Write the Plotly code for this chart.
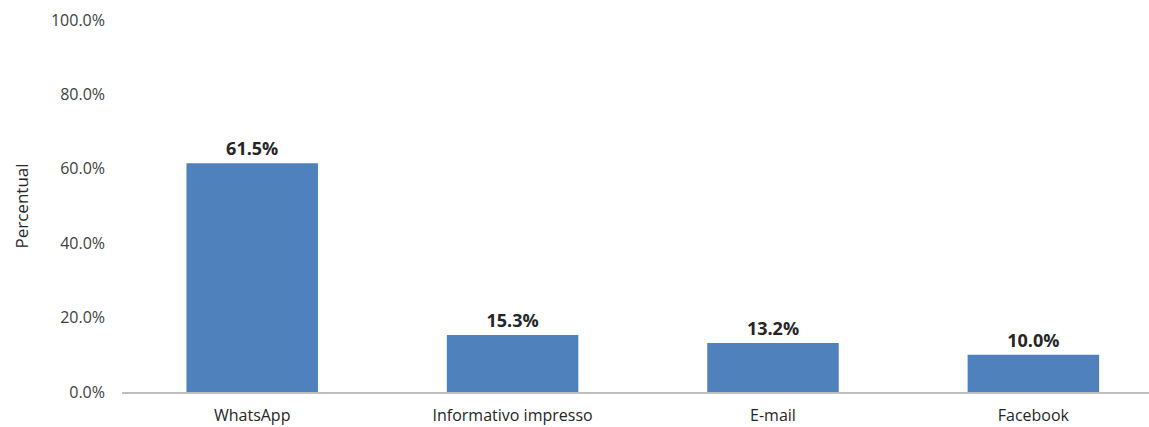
import plotly.graph_objects as go

categories = ["WhatsApp", "Informativo impresso", "E-mail", "Facebook"]
values = [61.5, 15.3, 13.2, 10.0]
tick_vals = [0, 20, 40, 60, 80, 100]
tick_text = ["0.0%", "20.0%", "40.0%", "60.0%", "80.0%", "100.0%"]

FONT = "'Open Sans', sans-serif"

fig = go.Figure(
    go.Bar(
        x=list(range(len(categories))),
        y=values,
        width=0.505,
        marker=dict(color="#4f81bd", line=dict(width=0)),
        text=[f"{v:.1f}%" for v in values],
        textposition="outside",
        cliponaxis=False,
        textfont=dict(family=FONT, size=18, color="#262626", weight="bold"),
    )
)

fig.update_layout(
    width=1149,
    height=427,
    margin=dict(l=122, r=0, t=20, b=35),
    paper_bgcolor="white",
    plot_bgcolor="white",
    showlegend=False,
    font=dict(family=FONT, color="#404040"),
    xaxis=dict(
        range=[-0.5, 3.444],
        tickvals=list(range(len(categories))),
        ticktext=categories,
        showgrid=False,
        zeroline=False,
        showline=True,
        linecolor="#bfbfbf",
        linewidth=2,
        ticks="",
        ticklabelstandoff=8,
        automargin=False,
        tickfont=dict(size=16, color="#262626"),
    ),
    yaxis=dict(
        range=[0, 100],
        tickvals=tick_vals,
        ticktext=tick_text,
        showgrid=False,
        zeroline=False,
        showline=False,
        ticks="",
        ticklabelstandoff=16,
        automargin=False,
        tickfont=dict(size=16, color="#404040"),
        title=dict(text="Percentual", font=dict(size=17, color="#262626"), standoff=18),
    ),
)

fig.write_html("out.html")
